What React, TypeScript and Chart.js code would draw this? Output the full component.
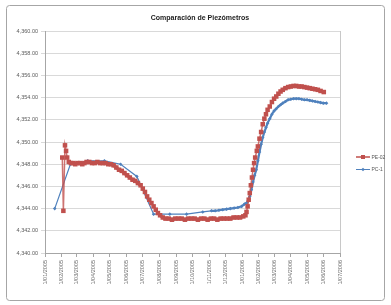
import { useEffect, useRef } from 'react';
import { Chart, registerables } from 'chart.js';

Chart.register(...registerables);

const chartTitle = 'Comparación de Piezómetros';
const seriesNames = ['PE-02', 'PC-1'];
const seriesColors = ['#C0504D', '#4F81BD'];

const xTickLabels = [
  '1/01/2005', '1/02/2005', '1/03/2005', '1/04/2005', '1/05/2005', '1/06/2005',
  '1/07/2005', '1/08/2005', '1/09/2005', '1/10/2005', '1/11/2005', '1/12/2005',
  '1/01/2006', '1/02/2006', '1/03/2006', '1/04/2006', '1/05/2006', '1/06/2006',
  '1/07/2006',
];
const yMin = 4340;
const yMax = 4360;
const yStep = 2;

const pe02Dates = [
  '2005-02-02', '2005-02-04', '2005-02-07', '2005-02-09', '2005-02-11', '2005-02-14',
  '2005-02-18', '2005-02-22', '2005-02-26', '2005-03-02', '2005-03-07', '2005-03-11',
  '2005-03-15', '2005-03-19', '2005-03-24', '2005-03-29', '2005-04-03', '2005-04-08',
  '2005-04-13', '2005-04-18', '2005-04-23', '2005-04-28', '2005-05-03', '2005-05-08',
  '2005-05-13', '2005-05-18', '2005-05-23', '2005-05-28', '2005-06-02', '2005-06-07',
  '2005-06-12', '2005-06-17', '2005-06-22', '2005-06-27', '2005-07-01', '2005-07-05',
  '2005-07-09', '2005-07-13', '2005-07-17', '2005-07-21', '2005-07-25', '2005-07-29',
  '2005-08-02', '2005-08-07', '2005-08-12', '2005-08-18', '2005-08-24', '2005-08-30',
  '2005-09-05', '2005-09-11', '2005-09-17', '2005-09-23', '2005-09-29', '2005-10-05',
  '2005-10-11', '2005-10-17', '2005-10-23', '2005-10-29', '2005-11-04', '2005-11-10',
  '2005-11-16', '2005-11-22', '2005-11-28', '2005-12-04', '2005-12-10', '2005-12-16',
  '2005-12-22', '2005-12-28', '2006-01-03', '2006-01-07', '2006-01-09', '2006-01-11',
  '2006-01-13', '2006-01-15', '2006-01-17', '2006-01-19', '2006-01-21', '2006-01-23',
  '2006-01-25', '2006-01-28', '2006-01-30', '2006-02-02', '2006-02-05', '2006-02-08',
  '2006-02-11', '2006-02-14', '2006-02-17', '2006-02-21', '2006-02-25', '2006-03-01',
  '2006-03-05', '2006-03-09', '2006-03-13', '2006-03-17', '2006-03-22', '2006-03-27',
  '2006-04-01', '2006-04-06', '2006-04-11', '2006-04-16', '2006-04-21', '2006-04-26',
  '2006-05-01', '2006-05-06', '2006-05-11', '2006-05-16', '2006-05-21', '2006-05-26',
  '2006-06-01',
];
const pe02Values = [
  4348.6, 4343.8, 4349.7, 4349.2, 4348.6, 4348.2,
  4348.1, 4348.1, 4348.0, 4348.1, 4348.1, 4348.0,
  4348.1, 4348.2, 4348.2, 4348.1, 4348.1, 4348.2,
  4348.1, 4348.1, 4348.1, 4348.0, 4348.0, 4347.9,
  4347.7, 4347.5, 4347.4, 4347.2, 4347.0, 4346.8,
  4346.6, 4346.5, 4346.3, 4346.1, 4345.8, 4345.5,
  4345.1, 4344.8, 4344.5, 4344.2, 4343.9, 4343.6,
  4343.4, 4343.2, 4343.1, 4343.1, 4343.0, 4343.1,
  4343.1, 4343.1, 4343.0, 4343.1, 4343.1, 4343.1,
  4343.0, 4343.1, 4343.1, 4343.0, 4343.1, 4343.1,
  4343.0, 4343.1, 4343.1, 4343.1, 4343.1, 4343.2,
  4343.2, 4343.2, 4343.3, 4343.4, 4343.7, 4344.2,
  4344.8, 4345.4, 4346.1, 4346.8, 4347.5, 4348.1,
  4348.6, 4349.2, 4349.6, 4350.3, 4350.9, 4351.6,
  4352.1, 4352.5, 4352.9, 4353.2, 4353.6, 4353.9,
  4354.1, 4354.35, 4354.55, 4354.7, 4354.85, 4354.95,
  4355.0, 4355.05, 4355.05, 4355.0, 4355.0, 4354.95,
  4354.9, 4354.85, 4354.8, 4354.75, 4354.7, 4354.6,
  4354.5,
];

const pc1Dates = [
  '2005-01-19', '2005-02-17', '2005-03-21', '2005-04-21', '2005-05-21', '2005-06-20',
  '2005-07-21', '2005-08-20', '2005-09-20', '2005-10-20', '2005-11-05', '2005-11-12',
  '2005-11-19', '2005-11-26', '2005-12-03', '2005-12-10', '2005-12-17', '2005-12-24',
  '2005-12-31', '2006-01-05', '2006-01-09', '2006-01-12', '2006-01-15', '2006-01-18',
  '2006-01-21', '2006-01-24', '2006-01-27', '2006-01-30', '2006-02-02', '2006-02-05',
  '2006-02-08', '2006-02-11', '2006-02-14', '2006-02-17', '2006-02-21', '2006-02-25',
  '2006-03-01', '2006-03-05', '2006-03-09', '2006-03-13', '2006-03-17', '2006-03-22',
  '2006-03-27', '2006-04-01', '2006-04-06', '2006-04-11', '2006-04-16', '2006-04-21',
  '2006-04-26', '2006-05-01', '2006-05-06', '2006-05-11', '2006-05-16', '2006-05-21',
  '2006-05-26', '2006-05-31', '2006-06-06',
];
const pc1Values = [
  4344.0, 4348.0, 4348.3, 4348.3, 4348.0, 4346.9,
  4343.5, 4343.5, 4343.5, 4343.7, 4343.8, 4343.8,
  4343.85, 4343.9, 4343.95, 4344.0, 4344.05, 4344.1,
  4344.2, 4344.4, 4344.5, 4344.7, 4345.1, 4345.7,
  4346.4, 4347.0, 4347.5, 4348.3, 4349.1, 4349.8,
  4350.4, 4350.9, 4351.3, 4351.7, 4352.1, 4352.5,
  4352.8, 4353.0, 4353.2, 4353.35, 4353.5, 4353.65,
  4353.8, 4353.85, 4353.9, 4353.9, 4353.9, 4353.85,
  4353.8, 4353.8, 4353.75, 4353.7, 4353.65, 4353.6,
  4353.55, 4353.5, 4353.5,
];

const EPOCH = Date.UTC(2005, 0, 1);
function dayFromIso(iso: string): number {
  const [y, m, d] = iso.split('-').map(Number);
  return (Date.UTC(y, m - 1, d) - EPOCH) / 86400000;
}
function dayFromLabel(lbl: string): number {
  const [d, m, y] = lbl.split('/').map(Number);
  return (Date.UTC(y, m - 1, d) - EPOCH) / 86400000;
}
function fmtY(v: number): string {
  const s = v.toFixed(2);
  const [ip, dp] = s.split('.');
  return ip.replace(/\B(?=(\d{3})+(?!\d))/g, ',') + '.' + dp;
}

const FONT = "'Liberation Sans', Arial, sans-serif";

export default function App() {
  const ref = useRef<HTMLCanvasElement | null>(null);

  useEffect(() => {
    const canvas = ref.current;
    if (!canvas) return;
    const tickDays = xTickLabels.map(dayFromLabel);

    const chromePlugin = {
      id: 'chrome',
      beforeDraw(chart: any) {
        const { ctx, width, height } = chart;
        ctx.save();
        ctx.fillStyle = '#ffffff';
        ctx.fillRect(0, 0, width, height);
        ctx.strokeStyle = '#a6a6a6';
        ctx.lineWidth = 1;
        ctx.beginPath();
        const r = 3;
        const x0 = 6.5, y0 = 5.5, x1 = 384.5, y1 = 300.5;
        ctx.moveTo(x0 + r, y0);
        ctx.lineTo(x1 - r, y0);
        ctx.arcTo(x1, y0, x1, y0 + r, r);
        ctx.lineTo(x1, y1 - r);
        ctx.arcTo(x1, y1, x1 - r, y1, r);
        ctx.lineTo(x0 + r, y1);
        ctx.arcTo(x0, y1, x0, y1 - r, r);
        ctx.lineTo(x0, y0 + r);
        ctx.arcTo(x0, y0, x0 + r, y0, r);
        ctx.stroke();
        ctx.restore();
      },
      beforeDatasetsDraw(chart: any) {
        const { ctx, chartArea } = chart;
        ctx.save();
        ctx.strokeStyle = '#c8c8c8';
        ctx.lineWidth = 1;
        ctx.beginPath();
        const rx = Math.round(chartArea.right) + 0.5;
        ctx.moveTo(rx, chartArea.top);
        ctx.lineTo(rx, chartArea.bottom);
        ctx.stroke();
        ctx.restore();
      },
      afterDraw(chart: any) {
        const { ctx } = chart;
        ctx.save();
        ctx.fillStyle = '#222';
        ctx.font = `bold 7px ${FONT}`;
        ctx.textAlign = 'center';
        ctx.textBaseline = 'middle';
        ctx.fillText(chartTitle, 200, 18);

        const items = [
          { y: 157, color: seriesColors[0], style: 'rect', text: seriesNames[0] },
          { y: 169.5, color: seriesColors[1], style: 'diamond', text: seriesNames[1] },
        ];
        ctx.font = `5px ${FONT}`;
        ctx.textAlign = 'left';
        items.forEach((it) => {
          ctx.strokeStyle = it.color;
          ctx.fillStyle = it.color;
          ctx.lineWidth = it.style === 'rect' ? 1.5 : 1;
          ctx.beginPath();
          ctx.moveTo(356, it.y);
          ctx.lineTo(370, it.y);
          ctx.stroke();
          ctx.beginPath();
          if (it.style === 'rect') {
            ctx.rect(361, it.y - 2, 4, 4);
          } else {
            ctx.moveTo(363, it.y - 1.8);
            ctx.lineTo(364.8, it.y);
            ctx.lineTo(363, it.y + 1.8);
            ctx.lineTo(361.2, it.y);
            ctx.closePath();
          }
          ctx.fill();
          ctx.fillStyle = '#595959';
          ctx.fillText(it.text, 371.5, it.y + 0.5);
        });
        ctx.restore();
      },
    };

    const segWidth = (thin: number, thick: number) => (c: any) =>
      Math.abs(c.p1.x - c.p0.x) < 2.2 || Math.abs(c.p1.x - c.p0.x) > 6 ? thin : thick;

    const chart = new Chart(canvas, {
      type: 'line',
      data: {
        datasets: [
          {
            label: seriesNames[0],
            data: pe02Dates.map((d, i) => ({ x: dayFromIso(d), y: pe02Values[i] })),
            borderColor: 'rgba(192,80,77,0.8)',
            backgroundColor: seriesColors[0],
            borderWidth: 1.5,
            segment: { borderWidth: segWidth(1.5, 3.5) },
            pointStyle: 'rect',
            pointRadius: 3.2,
            pointBorderWidth: 0,
            pointBackgroundColor: seriesColors[0],
            pointBorderColor: seriesColors[0],
            tension: 0,
          },
          {
            label: seriesNames[1],
            data: pc1Dates.map((d, i) => ({ x: dayFromIso(d), y: pc1Values[i] })),
            borderColor: seriesColors[1],
            backgroundColor: seriesColors[1],
            borderWidth: 1.2,
            segment: { borderWidth: (c: any) => (Math.abs(c.p1.x - c.p0.x) < 6 ? 2.2 : 1.2) },
            pointStyle: 'rectRot',
            pointRadius: 1.8,
            pointBorderWidth: 0,
            pointBackgroundColor: seriesColors[1],
            pointBorderColor: seriesColors[1],
            tension: 0,
          },
        ],
      },
      options: {
        responsive: false,
        animation: false,
        events: [],
        layout: { padding: { top: 31, right: 51, bottom: 0, left: 0 } },
        plugins: {
          legend: { display: false },
          title: { display: false },
          tooltip: { enabled: false },
        },
        scales: {
          x: {
            type: 'linear',
            min: tickDays[0],
            max: tickDays[tickDays.length - 1],
            afterBuildTicks(scale: any) {
              scale.ticks = tickDays.map((v) => ({ value: v }));
            },
            afterFit(scale: any) {
              scale.height = 52;
            },
            ticks: {
              autoSkip: false,
              minRotation: 90,
              maxRotation: 90,
              padding: 3,
              color: '#6b6b6b',
              font: { family: FONT, size: 5.5 },
              callback: (_v: any, i: number) => xTickLabels[i],
            },
            grid: {
              display: true,
              drawOnChartArea: false,
              drawTicks: true,
              tickLength: 4,
              color: '#a6a6a6',
            },
            border: { display: true, color: '#a6a6a6' },
          },
          y: {
            type: 'linear',
            min: yMin,
            max: yMax,
            afterFit(scale: any) {
              scale.width = 45;
            },
            ticks: {
              stepSize: yStep,
              padding: 3,
              color: '#595959',
              font: { family: FONT, size: 5.5 },
              callback: (v: any) => fmtY(Number(v)),
            },
            grid: {
              color: '#d9d9d9',
              drawTicks: true,
              tickLength: 4,
            },
            border: { display: true, color: '#a6a6a6' },
          },
        },
      },
      plugins: [chromePlugin],
    } as any);

    return () => chart.destroy();
  }, []);

  return (
    <div style={{ position: 'absolute', left: 0, top: 0, width: 391, height: 305 }}>
      <canvas ref={ref} width={391} height={305} style={{ width: 391, height: 305, display: 'block' }} />
    </div>
  );
}
